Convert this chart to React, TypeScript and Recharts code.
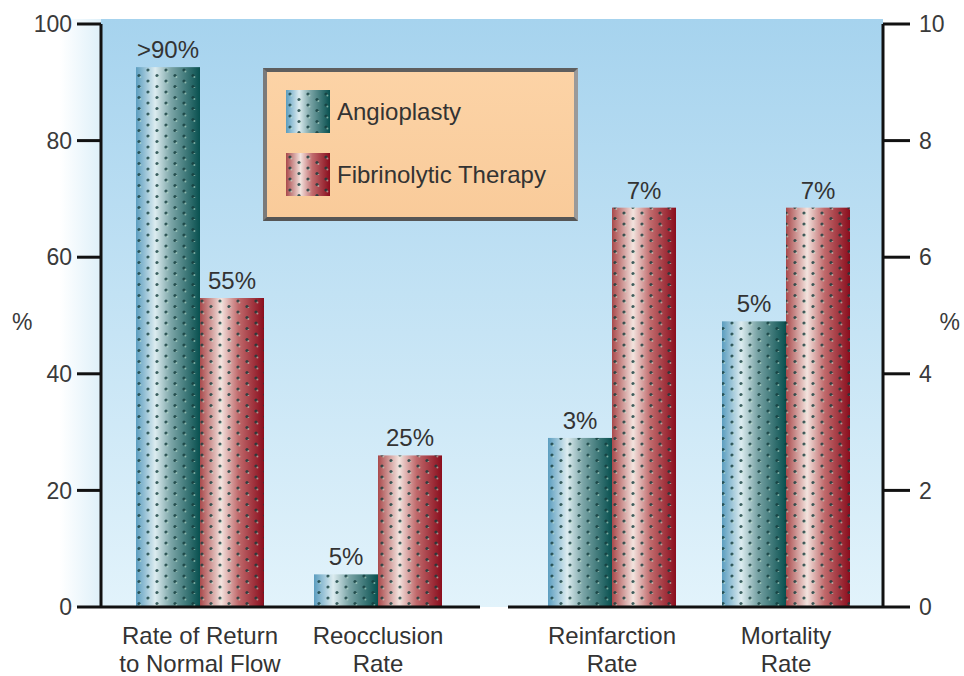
import React from 'react';
import { BarChart, Bar, XAxis, YAxis, LabelList, Legend } from 'recharts';

// ---- data ----
const categoriesLeft = ['Rate of Return\nto Normal Flow', 'Reocclusion\nRate'];
const categoriesRight = ['Reinfarction\nRate', 'Mortality\nRate'];
const angioplastyLeft = [92.6, 5.6];
const fibrinolyticLeft = [53, 26];
const angioplastyRight = [2.9, 4.9];
const fibrinolyticRight = [6.85, 6.85];
const angioplastyLabelsLeft = ['>90%', '5%'];
const fibrinolyticLabelsLeft = ['55%', '25%'];
const angioplastyLabelsRight = ['3%', '5%'];
const fibrinolyticLabelsRight = ['7%', '7%'];
const leftTicks = [0, 20, 40, 60, 80, 100];
const rightTicks = [0, 2, 4, 6, 8, 10];
const seriesNames = ['Angioplasty', 'Fibrinolytic Therapy'];

const leftData = categoriesLeft.map((c, i) => ({
  category: c,
  angio: angioplastyLeft[i],
  fibrin: fibrinolyticLeft[i],
  angioLabel: angioplastyLabelsLeft[i],
  fibrinLabel: fibrinolyticLabelsLeft[i],
}));
const rightData = categoriesRight.map((c, i) => ({
  category: c,
  angio: angioplastyRight[i],
  fibrin: fibrinolyticRight[i],
  angioLabel: angioplastyLabelsRight[i],
  fibrinLabel: fibrinolyticLabelsRight[i],
}));

const FONT = '"Liberation Sans", Arial, Helvetica, sans-serif';
const TEXT = '#333';
const AXIS = '#111';

const PatternBar = (props: any) => {
  const { x, y, width, height, gradId } = props;
  if (!height || height <= 0) return null;
  return (
    <g>
      <rect x={x} y={y} width={width} height={height} fill={`url(#${gradId})`} />
      <rect x={x} y={y} width={width} height={height} fill="url(#dotsPattern)" />
    </g>
  );
};

const CatTick = (props: any) => {
  const { x, y, payload } = props;
  const lines = String(payload.value).split('\n');
  return (
    <text x={x} y={y} textAnchor="middle" fill={TEXT} fontSize={24} fontFamily={FONT}>
      {lines.map((l, i) => (
        <tspan key={i} x={x} dy={i === 0 ? 37 : 28}>{l}</tspan>
      ))}
    </text>
  );
};

const LegendBox = () => (
  <div
    style={{
      width: 307,
      height: 145,
      background: 'linear-gradient(to bottom, #fcd3a6, #f9cb9a)',
      borderStyle: 'solid',
      borderWidth: 4,
      borderColor: '#5e5e5e #9a9a9a #555 #7a7a7a',
      boxSizing: 'content-box',
      position: 'relative',
      fontFamily: FONT,
      color: TEXT,
    }}
  >
    {seriesNames.map((n, i) => (
      <div
        key={n}
        style={{ position: 'absolute', left: 19, top: 18 + i * 63, display: 'flex', alignItems: 'center' }}
      >
        <svg width={44} height={43} style={{ display: 'block' }}>
          <rect x={0} y={0} width={44} height={43} fill={i === 0 ? 'url(#gradAngio)' : 'url(#gradFibrin)'} />
          <rect x={0} y={0} width={44} height={43} fill="url(#dotsPattern)" />
        </svg>
        <span style={{ marginLeft: 7, fontSize: 24, whiteSpace: 'nowrap' }}>{n}</span>
      </div>
    ))}
  </div>
);

const tickStyle = { fill: '#3a3a3a', fontSize: 23, fontFamily: FONT };

export default function App() {
  return (
    <div style={{ position: 'absolute', left: 0, top: 0, width: 964, height: 676, background: '#fff', overflow: 'hidden' }}>
      <svg width={0} height={0} style={{ position: 'absolute' }}>
        <defs>
          <linearGradient id="gradAngio" x1="0" y1="0" x2="1" y2="0">
            <stop offset="0%" stopColor="#5b9dbf" />
            <stop offset="30%" stopColor="#dcecf0" />
            <stop offset="55%" stopColor="#7aa4a6" />
            <stop offset="100%" stopColor="#08504f" />
          </linearGradient>
          <linearGradient id="gradFibrin" x1="0" y1="0" x2="1" y2="0">
            <stop offset="0%" stopColor="#a9494b" />
            <stop offset="33%" stopColor="#f3e3de" />
            <stop offset="60%" stopColor="#c06a6c" />
            <stop offset="100%" stopColor="#8a0d1d" />
          </linearGradient>
          <pattern id="dotsPattern" width={18} height={22} patternUnits="userSpaceOnUse">
            <circle cx={4} cy={4} r={1.6} fill="rgba(20,60,60,0.8)" />
            <circle cx={13} cy={9.5} r={1.6} fill="rgba(20,60,60,0.8)" />
            <circle cx={4} cy={15} r={1.6} fill="rgba(20,60,60,0.8)" />
            <circle cx={13} cy={20.5} r={1.6} fill="rgba(20,60,60,0.8)" />
            <circle cx={5.4} cy={5.4} r={1} fill="rgba(200,235,215,0.55)" />
            <circle cx={14.4} cy={10.9} r={1} fill="rgba(200,235,215,0.55)" />
            <circle cx={5.4} cy={16.4} r={1} fill="rgba(200,235,215,0.55)" />
            <circle cx={14.4} cy={21.9} r={1} fill="rgba(200,235,215,0.55)" />
          </pattern>
        </defs>
      </svg>
      {/* plot background */}
      <div style={{ position: 'absolute', left: 101, top: 19, width: 782, height: 588, background: 'linear-gradient(to bottom, #a6d3ee, #e2f3fb)' }} />
      <div style={{ position: 'absolute', left: 60, top: 19, width: 41, height: 588, background: 'linear-gradient(to right, rgba(220,238,248,0), rgba(200,230,245,0.6))' }} />

      {/* right group: reinfarction & mortality (0-10 scale) */}
      <div style={{ position: 'absolute', left: 494, top: 0, zIndex: 1 }}>
        <BarChart width={470} height={676} data={rightData} margin={{ top: 24, right: 0, left: 14, bottom: 0 }} barGap={0} barSize={64}>
          <XAxis
            dataKey="category"
            height={69}
            interval={0}
            tickLine={false}
            tickSize={0}
            tickMargin={0}
            axisLine={{ stroke: AXIS, strokeWidth: 3 }}
            tick={<CatTick />}
            padding={{ left: 17, right: 10 }}
          />
          <YAxis
            yAxisId="right"
            orientation="right"
            width={81}
            domain={[0, 10]}
            ticks={rightTicks}
            tickSize={27}
            tickMargin={9}
            axisLine={{ stroke: AXIS, strokeWidth: 3 }}
            tickLine={{ stroke: AXIS, strokeWidth: 3 }}
            tick={tickStyle}
            label={{ value: '%', position: 'insideRight', offset: 4, dy: 6, fill: '#3a3a3a', fontSize: 23, fontFamily: FONT }}
          />
          <Bar yAxisId="right" dataKey="angio" name={seriesNames[0]} isAnimationActive={false} shape={(p: any) => <PatternBar {...p} gradId="gradAngio" />}>
            <LabelList dataKey="angioLabel" position="top" offset={9} fill={TEXT} fontSize={24} fontFamily={FONT} />
          </Bar>
          <Bar yAxisId="right" dataKey="fibrin" name={seriesNames[1]} isAnimationActive={false} shape={(p: any) => <PatternBar {...p} gradId="gradFibrin" />}>
            <LabelList dataKey="fibrinLabel" position="top" offset={9} fill={TEXT} fontSize={24} fontFamily={FONT} />
          </Bar>
        </BarChart>
      </div>

      {/* left group: rate of return & reocclusion (0-100 scale) */}
      <div style={{ position: 'absolute', left: 0, top: 0, zIndex: 2 }}>
        <BarChart width={494} height={676} data={leftData} margin={{ top: 24, right: 14, left: 0, bottom: 0 }} barGap={0} barSize={64}>
          <XAxis
            dataKey="category"
            height={69}
            interval={0}
            tickLine={false}
            tickSize={0}
            tickMargin={0}
            axisLine={{ stroke: AXIS, strokeWidth: 3 }}
            tick={<CatTick />}
            padding={{ left: 10, right: 13 }}
          />
          <YAxis
            width={101}
            domain={[0, 100]}
            ticks={leftTicks}
            tickSize={24}
            tickMargin={5}
            axisLine={{ stroke: AXIS, strokeWidth: 3 }}
            tickLine={{ stroke: AXIS, strokeWidth: 3 }}
            tick={tickStyle}
            label={{ value: '%', position: 'insideLeft', offset: 12, dy: 6, fill: '#3a3a3a', fontSize: 23, fontFamily: FONT }}
          />
          <Legend
            layout="horizontal"
            verticalAlign="middle"
            align="center"
            wrapperStyle={{ left: 263, top: 68, width: 315 }}
            content={() => <LegendBox />}
          />
          <Bar dataKey="angio" name={seriesNames[0]} isAnimationActive={false} shape={(p: any) => <PatternBar {...p} gradId="gradAngio" />}>
            <LabelList dataKey="angioLabel" position="top" offset={9} fill={TEXT} fontSize={24} fontFamily={FONT} />
          </Bar>
          <Bar dataKey="fibrin" name={seriesNames[1]} isAnimationActive={false} shape={(p: any) => <PatternBar {...p} gradId="gradFibrin" />}>
            <LabelList dataKey="fibrinLabel" position="top" offset={9} fill={TEXT} fontSize={24} fontFamily={FONT} />
          </Bar>
        </BarChart>
      </div>
    </div>
  );
}
